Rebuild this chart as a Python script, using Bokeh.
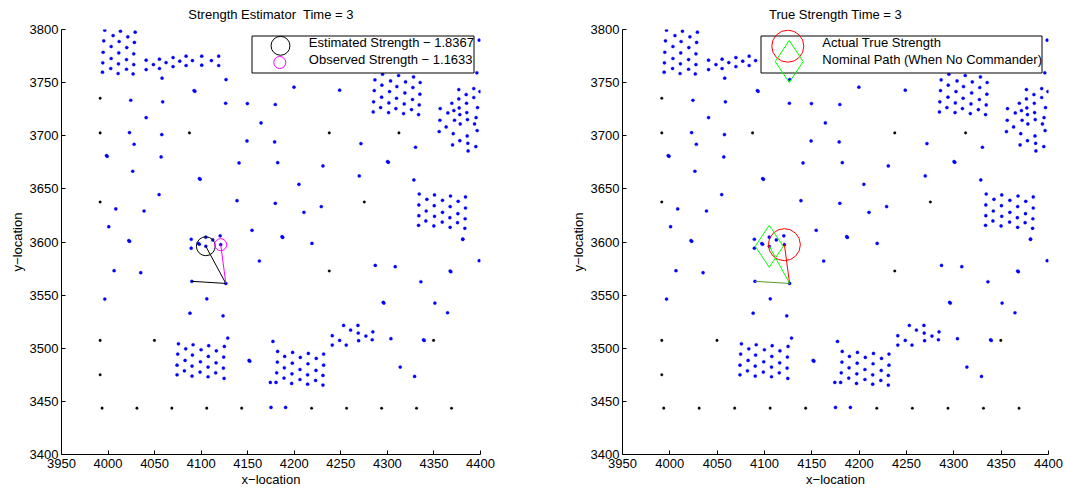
from bokeh.plotting import figure
from bokeh.layouts import row
from bokeh.models import Legend, LegendItem, FixedTicker
from bokeh.embed import file_html
from bokeh.resources import INLINE

FONT = "Liberation Sans"
X_RANGE = (3950, 4400)
Y_RANGE = (3400, 3800)
x_ticks = list(range(3950, 4401, 50))
y_ticks = list(range(3400, 3801, 50))

# ---- data -----------------------------------------------------------------
# black sensor grid points
grid_x = [3991.5, 3991.5, 3991.5, 3991.5, 3991.5, 4087.4, 4237.6, 4312.4, 4275.2,
          4237.6, 4049.8, 4349.6,
          3993.6, 4031.0, 4068.5, 4106.0, 4143.5, 4218.6, 4256.2, 4293.8, 4331.3, 4368.9]
grid_y = [3735.3, 3702.7, 3637.7, 3507.4, 3475.0, 3702.7, 3702.7, 3702.7, 3637.7,
          3572.7, 3507.4, 3507.4,
          3443.6, 3443.6, 3443.6, 3443.6, 3443.6, 3443.6, 3443.6, 3443.6, 3443.6, 3443.6]

# blue units: top-left block
tl_x = [3996.5, 3995.4, 3994.7, 3994.3, 3994.0,
        4005.4, 4003.3, 4003.3, 4002.9,
        4013.3, 4011.9, 4011.5, 4011.2, 4010.8,
        4021.2, 4020.1, 4019.8, 4019.8,
        4029.1, 4028.3, 4027.6, 4027.6, 4026.9]
tl_y = [3799.4, 3789.3, 3778.6, 3768.6, 3759.8,
        3794.3, 3784.0, 3772.7, 3763.3,
        3798.4, 3788.7, 3778.0, 3767.7, 3758.6,
        3793.1, 3783.0, 3771.7, 3762.6,
        3797.5, 3787.8, 3777.1, 3767.0, 3758.2]

# blue units: top band
band_x = [4040.9, 4040.9, 4048.7, 4055.2, 4055.2, 4062.3, 4069.8, 4069.8, 4077.0,
          4083.8, 4083.8, 4090.6, 4100.6, 4100.6, 4111.0, 4118.8, 4118.8]
band_y = [3771.1, 3762.3, 3767.0, 3772.1, 3763.3, 3768.9, 3773.6, 3765.1, 3770.2,
          3774.9, 3766.1, 3770.8, 3774.9, 3766.4, 3770.8, 3774.9, 3766.1]

# blue units: top-right block
tr_x = [4294.8, 4312.0, 4328.1,
        4286.6, 4303.4, 4319.5, 4335.2,
        4294.1, 4310.2, 4327.4,
        4285.9, 4302.3, 4318.8, 4334.9,
        4293.8, 4309.8, 4327.0,
        4285.2, 4301.6, 4318.1, 4334.2,
        4292.7, 4309.1, 4325.9,
        4284.8, 4301.3, 4317.4, 4333.5]
tr_y = [3757.9, 3756.7, 3755.4,
        3752.6, 3751.6, 3750.7, 3750.1,
        3747.6, 3746.3, 3745.4,
        3742.5, 3741.6, 3740.3, 3739.1,
        3736.3, 3735.3, 3734.1,
        3731.9, 3730.9, 3730.0, 3729.0,
        3726.5, 3725.6, 3724.6,
        3722.4, 3721.8, 3720.9, 3719.9]

# blue units: right-edge block
re_x = [4392.8, 4376.7, 4399.4, 4384.6, 4392.8, 4376.7, 4369.2, 4385.0, 4396.8,
        4356.7, 4377.1, 4371.4, 4364.9, 4385.3, 4377.8, 4395.3, 4356.4, 4372.1,
        4386.0, 4393.6, 4378.2, 4363.1, 4355.6, 4370.7, 4396.4, 4385.7, 4377.8,
        4386.4, 4395.0, 4370.0, 4386.7]
re_y = [3744.4, 3743.5, 3741.6, 3738.8, 3736.0, 3734.7, 3730.6, 3730.6, 3726.5,
        3725.6, 3726.2, 3723.7, 3721.5, 3721.8, 3719.9, 3717.1, 3714.6, 3714.6,
        3715.2, 3711.1, 3711.1, 3708.3, 3703.9, 3702.0, 3704.9, 3699.8, 3695.4,
        3692.9, 3689.8, 3691.4, 3685.7]

# blue units: middle-right block
mr_x = [4334.2, 4342.4, 4350.6, 4359.2, 4367.8, 4376.0, 4383.9,
        4333.8, 4341.7, 4350.3, 4359.2, 4367.4, 4375.7, 4383.9,
        4333.8, 4341.3, 4350.6, 4358.9, 4367.1, 4375.3, 4383.5,
        4333.5, 4349.9, 4367.4, 4383.2, 4381.0]
mr_y = [3645.2, 3640.2, 3644.3, 3639.2, 3643.3, 3638.3, 3642.4,
        3634.9, 3629.2, 3634.2, 3627.9, 3633.3, 3626.7, 3632.0,
        3624.8, 3619.8, 3624.2, 3618.8, 3622.9, 3618.2, 3621.9,
        3615.7, 3615.1, 3613.8, 3612.9, 3602.5]

# blue units: bottom-left block
bl_x = [4075.6, 4083.4, 4091.3, 4099.9, 4108.1, 4116.3, 4124.9, 4128.5,
        4074.8, 4082.7, 4090.6, 4099.2, 4107.7, 4116.0, 4124.2,
        4074.1, 4082.0, 4090.2, 4098.8, 4107.4, 4115.6, 4123.9,
        4074.1, 4090.2, 4107.4, 4124.6]
bl_y = [3504.2, 3499.5, 3503.3, 3498.6, 3502.4, 3497.6, 3501.7, 3509.6,
        3494.5, 3488.5, 3493.6, 3487.3, 3492.3, 3486.3, 3491.7,
        3484.1, 3478.8, 3483.2, 3477.6, 3482.3, 3476.9, 3481.3,
        3475.0, 3473.8, 3473.2, 3471.6]

# blue units: bottom-middle block
bm_x = [4177.1, 4182.1, 4189.7, 4198.2, 4206.5, 4215.1, 4223.6, 4231.5,
        4181.8, 4189.3, 4197.9, 4206.1, 4214.7, 4223.3, 4231.5,
        4181.1, 4189.0, 4197.5, 4206.1, 4214.3, 4222.9, 4230.8,
        4174.3, 4180.4, 4197.2, 4214.3, 4230.8]
bm_y = [3506.4, 3497.0, 3492.3, 3496.1, 3491.4, 3495.1, 3490.4, 3494.5,
        3487.0, 3481.6, 3486.0, 3480.0, 3485.4, 3479.1, 3484.1,
        3476.9, 3471.9, 3475.9, 3470.6, 3475.0, 3469.7, 3474.4,
        3467.8, 3467.8, 3466.9, 3466.2, 3465.3]

# blue units: diagonal band lower right
dg_x = [4240.8, 4248.7, 4240.8, 4253.0, 4260.5, 4268.4, 4268.7, 4276.9, 4284.4,
        4283.7, 4255.8, 4269.1]
dg_y = [3511.8, 3507.4, 3503.0, 3521.5, 3517.1, 3521.5, 3514.3, 3511.5, 3515.5,
        3508.0, 3503.0, 3507.1]

# blue units: scattered singles (doubled entries are overlapping units)
sc_x = [4058.0, 4126.7, 4092.4, 4093.3, 4024.4, 4058.7, 4126.3, 4149.6, 4179.6,
        4199.7, 4248.7, 4164.3, 4040.9, 4023.0, 4028.0, 4057.7, 4149.2, 4178.9,
        4271.6, 3998.3, 3999.1, 4057.0, 4140.7, 4182.2, 4230.8, 4026.5, 4269.8,
        4098.1, 4098.9, 4328.5, 4205.0, 4054.8, 4138.5, 4179.6, 4008.3, 4038.7,
        4229.0, 4210.4, 4000.8, 4154.6, 4022.3, 4023.1, 4186.8, 4187.6, 4219.0,
        4089.3, 4097.2, 4098.0, 4105.0, 4112.5, 4120.4, 4089.3, 4105.0, 4121.0,
        4090.0, 4126.5, 4106.1, 4088.0, 4123.5, 4006.5, 4035.1, 3996.5,
        4162.5, 4287.0, 4308.4, 4336.0, 4295.5, 4296.3, 4351.0, 4364.6,
        4367.4, 4368.2, 4398.6, 4381.0, 4398.6, 4396.1, 4330.2, 4300.2, 4301.0,
        4151.4, 4152.2, 4303.8, 4313.8, 4329.2, 4338.8, 4339.6, 4175.0, 4190.7]
sc_y = [3754.2, 3752.9, 3742.5, 3741.8, 3733.4, 3731.9, 3730.6, 3730.3, 3729.4,
        3745.7, 3742.9, 3712.1, 3717.1, 3703.0, 3692.0, 3701.1, 3695.1, 3694.2,
        3692.6, 3681.3, 3680.6, 3680.1, 3674.4, 3674.7, 3671.6, 3666.6, 3662.2,
        3659.7, 3659.0, 3658.4, 3654.3, 3644.6, 3638.9, 3636.4, 3631.1, 3629.2,
        3633.3, 3627.9, 3614.4, 3611.0, 3601.3, 3600.6, 3605.0, 3604.3, 3598.7,
        3602.6, 3598.6, 3597.9, 3604.5, 3602.0, 3605.8, 3594.2, 3596.0, 3597.5,
        3563.0, 3561.0, 3546.5, 3533.0, 3530.5, 3573.0, 3571.1, 3546.3,
        3582.1, 3578.0, 3576.8, 3562.6, 3543.2, 3542.5, 3542.5, 3533.4,
        3572.7, 3572.0, 3582.4, 3602.8, 3790.0, 3759.2, 3689.2, 3675.7, 3675.0,
        3488.5, 3487.8, 3509.0, 3482.3, 3473.5, 3508.0, 3507.3, 3444.3, 3444.3]

unit_x = tl_x + band_x + tr_x + re_x + mr_x + bl_x + bm_x + dg_x + sc_x
unit_y = tl_y + band_y + tr_y + re_y + mr_y + bl_y + bm_y + dg_y + sc_y

# commander related positions
est_x, est_y = 4105.0, 3596.0      # estimated position
obs_x, obs_y = 4121.0, 3597.5      # observed / actual position
cmd_x, cmd_y = 4126.5, 3561.0      # commander
prev_x, prev_y = 4090.0, 3563.0    # previous node
est_strength = 1.8367
obs_strength = 1.1633

titles = ["Strength Estimator\u00a0 Time = 3", "True Strength Time = 3"]
left_labels = ["Estimated Strength \u2212 %.4f" % est_strength,
               "Observed Strength \u2212 %.4f" % obs_strength]
right_labels = ["Actual True Strength", "Nominal Path (When No Commander)"]

# ---- layout constants (pixels) ---------------------------------------------
FRAME_H = 425
BORDER_L = 61
BORDER_T = 29
BORDER_B = 37


def screen_to_data(frame_w, sx, sy):
    """frame-relative pixel offset -> data coordinate (for legend decorations)"""
    return (X_RANGE[0] + sx * (X_RANGE[1] - X_RANGE[0]) / frame_w,
            Y_RANGE[1] - sy * (Y_RANGE[1] - Y_RANGE[0]) / FRAME_H)


def make_fig(title, frame_w, border_r):
    p = figure(frame_width=frame_w, frame_height=FRAME_H,
               min_border_left=BORDER_L, min_border_right=border_r,
               min_border_top=BORDER_T, min_border_bottom=BORDER_B,
               x_range=X_RANGE, y_range=Y_RANGE, title=title,
               output_backend="svg", toolbar_location=None, tools="")
    p.title.align = "center"
    p.title.vertical_align = "top"
    p.title.text_font = FONT
    p.title.text_font_size = "13px"
    p.title.text_font_style = "normal"
    p.title.text_color = "black"
    p.title.standoff = 11
    p.outline_line_color = None
    p.grid.visible = False
    p.background_fill_color = "white"
    for ax, ticks in ((p.xaxis[0], x_ticks), (p.yaxis[0], y_ticks)):
        ax.ticker = FixedTicker(ticks=ticks)
        ax.axis_line_color = "black"
        ax.axis_line_width = 1
        ax.major_tick_in = 4
        ax.major_tick_out = 0
        ax.major_tick_line_color = "black"
        ax.minor_tick_line_color = None
        ax.major_label_text_font = FONT
        ax.major_label_text_font_size = "13px"
        ax.major_label_text_color = "black"
        ax.axis_label_text_font = FONT
        ax.axis_label_text_font_size = "13px"
        ax.axis_label_text_font_style = "normal"
        ax.axis_label_text_color = "black"
    p.xaxis.axis_label = "x\u2212location"
    p.yaxis.axis_label = "y\u2212location"
    p.xaxis.major_label_standoff = 4
    p.xaxis.axis_label_standoff = 1
    p.yaxis.major_label_standoff = 3
    p.yaxis.axis_label_standoff = 2
    # units
    p.scatter(grid_x, grid_y, marker="circle", size=2.6, fill_color="black",
              line_color="black", line_width=0.3)
    p.scatter(unit_x, unit_y, marker="circle", size=3.2, fill_color="#0000ff",
              line_color="#0000ff", line_width=0.3)
    return p


def legend_box(p, frame_w, left, right):
    x0, y0 = screen_to_data(frame_w, left, 6.5)
    x1, y1 = screen_to_data(frame_w, right, 43.5)
    p.quad(left=[x0], right=[x1], top=[y0], bottom=[y1], fill_color="white",
           line_color="black", line_width=1)


def make_legend(p, labels, renderers):
    leg = Legend(items=[LegendItem(label=l, renderers=[r]) for l, r in zip(labels, renderers)],
                 location="top_right", margin=6, padding=4, spacing=2,
                 glyph_width=46, glyph_height=15, label_height=15, label_standoff=4,
                 label_text_font=FONT, label_text_font_size="13px", label_text_color="black",
                 border_line_color=None, background_fill_alpha=0)
    p.add_layout(leg)


# ---- left: strength estimator ---------------------------------------------
FW1 = 419
p1 = make_fig(titles[0], FW1, 81)
p1.line([est_x, cmd_x], [est_y, cmd_y], line_color="black", line_width=1)
p1.line([prev_x, cmd_x], [prev_y, cmd_y], line_color="black", line_width=1)
p1.line([obs_x, cmd_x], [obs_y, cmd_y], line_color="#ff00ff", line_width=1)
r_est = p1.scatter([est_x], [est_y], marker="circle", size=10.3 * est_strength,
                   fill_color=None, line_color="black", line_width=1)
r_obs = p1.scatter([obs_x], [obs_y], marker="circle", size=10.3 * obs_strength,
                   fill_color=None, line_color="#ff00ff", line_width=1)
legend_box(p1, FW1, 190.5, 412.5)
lx, ly = screen_to_data(FW1, 219.0, 16.3)
p1.scatter([lx], [ly], marker="circle", size=10.3 * est_strength, fill_color=None,
           line_color="black", line_width=1)
lx, ly = screen_to_data(FW1, 218.3, 33.0)
p1.scatter([lx], [ly], marker="circle", size=10.3 * obs_strength, fill_color=None,
           line_color="#ff00ff", line_width=1)
d1 = p1.scatter([est_x], [est_y], size=1, line_alpha=0, fill_alpha=0)
d2 = p1.scatter([obs_x], [obs_y], size=1, line_alpha=0, fill_alpha=0)
make_legend(p1, left_labels, [d1, d2])

# ---- right: true strength ---------------------------------------------------
FW2 = 426
p2 = make_fig(titles[1], FW2, 17)
p2.line([prev_x, cmd_x], [prev_y, cmd_y], line_color="#5a9a2a", line_width=1)
p2.line([est_x, cmd_x], [est_y, cmd_y], line_color="#00ff00", line_width=1)
p2.line([obs_x, cmd_x], [obs_y, cmd_y], line_color="#ff0000", line_width=1)
p2.scatter([obs_x], [obs_y], marker="circle", size=32, fill_color=None,
           line_color="#ff0000", line_width=1)
p2.scatter([est_x], [est_y], marker="diamond", size=42, fill_color=None,
           line_color="#00ff00", line_width=1)
legend_box(p2, FW2, 138.5, 419.5)
lx, ly = screen_to_data(FW2, 165.3, 16.7)
p2.scatter([lx], [ly], marker="circle", size=32, fill_color=None,
           line_color="#ff0000", line_width=1)
lx, ly = screen_to_data(FW2, 166.7, 32.0)
p2.scatter([lx], [ly], marker="diamond", size=42, fill_color=None,
           line_color="#00ff00", line_width=1)
d3 = p2.scatter([obs_x], [obs_y], size=1, line_alpha=0, fill_alpha=0)
d4 = p2.scatter([est_x], [est_y], size=1, line_alpha=0, fill_alpha=0)
make_legend(p2, right_labels, [d3, d4])

layout = row(p1, p2, spacing=0)
open("out.html", "w").write(file_html(layout, INLINE))
